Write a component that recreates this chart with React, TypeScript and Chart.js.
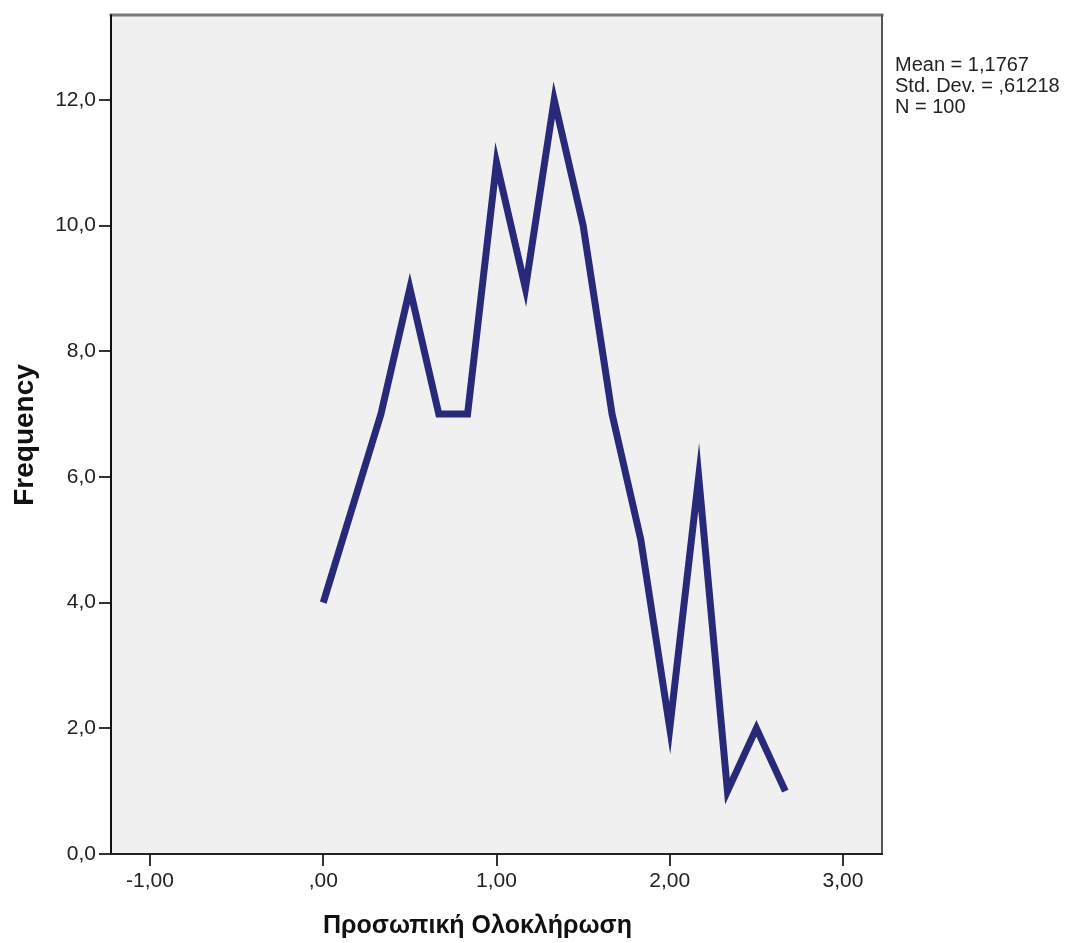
import React, { useEffect, useRef } from "react";
import { Chart, registerables } from "chart.js";

Chart.register(...registerables);

// Category values (Προσωπική Ολοκλήρωση) and their frequencies
const xValues = [0, 0.333, 0.5, 0.667, 0.833, 1, 1.167, 1.333, 1.5, 1.667, 1.833, 2, 2.167, 2.333, 2.5, 2.667];
const frequencies = [4, 7, 9, 7, 7, 11, 9, 12, 10, 7, 5, 2, 6, 1, 2, 1];

const xTickValues = [-1, 0, 1, 2, 3];
const xTickLabels = ["-1,00", ",00", "1,00", "2,00", "3,00"];
const yTickValues = [0, 2, 4, 6, 8, 10, 12];
const yTickLabels = ["0,0", "2,0", "4,0", "6,0", "8,0", "10,0", "12,0"];

const statsLines = ["Mean = 1,1767", "Std. Dev. = ,61218", "N = 100"];
const xTitle = "Προσωπική Ολοκλήρωση";
const yTitle = "Frequency";

const W = 1068;
const H = 943;
const AREA = { left: 111, top: 14, right: 882, bottom: 854 };

const framePlugin = {
  id: "spssFrame",
  beforeDatasetsDraw(chart: any) {
    const { ctx, chartArea } = chart;
    ctx.save();
    ctx.fillStyle = "#F0F0F0";
    ctx.fillRect(chartArea.left, chartArea.top, chartArea.right - chartArea.left, chartArea.bottom - chartArea.top);
    ctx.restore();
  },
  afterDraw(chart: any) {
    const { ctx, chartArea } = chart;
    const { left, top, right, bottom } = chartArea;
    ctx.save();
    ctx.lineCap = "square";
    // top
    ctx.strokeStyle = "#7a7a7a";
    ctx.lineWidth = 3;
    ctx.beginPath();
    ctx.moveTo(left, top - 0.5);
    ctx.lineTo(right, top - 0.5);
    ctx.stroke();
    // right
    ctx.strokeStyle = "#555";
    ctx.lineWidth = 2;
    ctx.beginPath();
    ctx.moveTo(right, top);
    ctx.lineTo(right, bottom);
    ctx.stroke();
    // left
    ctx.strokeStyle = "#111";
    ctx.beginPath();
    ctx.moveTo(left, top);
    ctx.lineTo(left, bottom);
    ctx.stroke();
    // bottom
    ctx.strokeStyle = "#222";
    ctx.beginPath();
    ctx.moveTo(left, bottom);
    ctx.lineTo(right, bottom);
    ctx.stroke();

    // axis titles
    ctx.fillStyle = "#111";
    ctx.textAlign = "center";
    ctx.textBaseline = "alphabetic";
    ctx.font = 'bold 25px "Liberation Sans", Arial, sans-serif';
    ctx.fillText(xTitle, 477.5, 933);
    ctx.save();
    ctx.font = 'bold 28px "Liberation Sans", Arial, sans-serif';
    ctx.translate(33, 435);
    ctx.rotate(-Math.PI / 2);
    ctx.fillText(yTitle, 0, 0);
    ctx.restore();

    // stats box text
    ctx.fillStyle = "#222";
    ctx.font = '20px "Liberation Sans", Arial, sans-serif';
    ctx.textAlign = "left";
    statsLines.forEach((t, i) => ctx.fillText(t, 895, 71 + i * 21));
    ctx.restore();
  },
};

export default function App() {
  const ref = useRef<HTMLCanvasElement | null>(null);

  useEffect(() => {
    if (!ref.current) return;
    const chart = new Chart(ref.current, {
      type: "line",
      data: {
        datasets: [
          {
            data: xValues.map((x, i) => ({ x, y: frequencies[i] })),
            borderColor: "#29297A",
            borderWidth: 7,
            borderJoinStyle: "miter",
            borderCapStyle: "butt",
            pointRadius: 0,
            fill: false,
            tension: 0,
          },
        ],
      },
      options: {
        animation: false,
        responsive: false,
        devicePixelRatio: 1,
        layout: { padding: { left: 0, top: AREA.top, right: W - AREA.right, bottom: 0 } },
        plugins: { legend: { display: false }, tooltip: { enabled: false }, title: { display: false } },
        scales: {
          x: {
            type: "linear",
            min: -1.225,
            max: 3.225,
            afterBuildTicks: (scale: any) => {
              scale.ticks = xTickValues.map((v) => ({ value: v }));
            },
            afterFit: (scale: any) => {
              scale.height = H - AREA.bottom;
            },
            ticks: {
              autoSkip: false,
              maxRotation: 0,
              padding: 3,
              color: "#222",
              font: { family: '"Liberation Sans", Arial, sans-serif', size: 21 },
              callback: (_v: any, i: number) => xTickLabels[i],
            },
            grid: { drawOnChartArea: false, drawTicks: true, tickLength: 12, color: "#333", lineWidth: 2 },
            border: { display: false },
          },
          y: {
            type: "linear",
            min: 0,
            max: 13.34,
            afterBuildTicks: (scale: any) => {
              scale.ticks = yTickValues.map((v) => ({ value: v }));
            },
            afterFit: (scale: any) => {
              scale.width = AREA.left;
            },
            ticks: {
              autoSkip: false,
              padding: 3,
              color: "#222",
              font: { family: '"Liberation Sans", Arial, sans-serif', size: 21 },
              callback: (_v: any, i: number) => yTickLabels[i],
            },
            grid: { drawOnChartArea: false, drawTicks: true, tickLength: 12, color: "#333", lineWidth: 2 },
            border: { display: false },
          },
        },
      },
      plugins: [framePlugin],
    } as any);
    return () => chart.destroy();
  }, []);

  return (
    <div style={{ position: "absolute", left: 0, top: 0, width: W, height: H, background: "#fff" }}>
      <canvas ref={ref} width={W} height={H} style={{ display: "block", width: W, height: H }} />
    </div>
  );
}
